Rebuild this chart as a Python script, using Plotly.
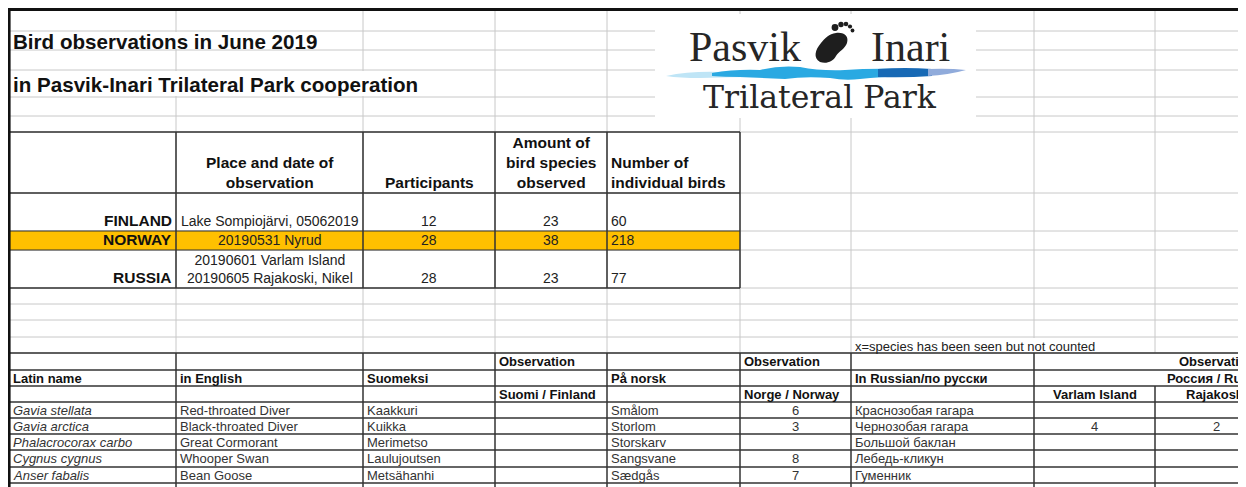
import plotly.graph_objects as go

W, H = 1246, 487
OFF = 8  # page margin of the html body; axis ranges are shifted so data units = window pixels

# sheet geometry in pixels (columns and row boundaries)
col_x = [4, 176, 363, 495, 607, 740, 851, 1034, 1155, 1277, 1400]
top_rows = [5, 31, 50, 70, 97, 116, 132]
summary_rows = [132, 193, 231, 250, 288]
spacer_rows = [288, 304, 320, 337, 353]
species_rows = [353, 370, 386, 402, 418, 434, 450, 467, 483, 499]

GRID = "#c8c8c8"
DARK = "#333333"
FONT = "Liberation Sans"
FIRST_COL_TEXT_X = 12  # left edge of text in the first column (clear of the frame)

# ---- data ----
title_lines = ["Bird observations in June 2019",
               "in Pasvik-Inari Trilateral Park cooperation"]

summary_header = ["Place and date of<br>observation", "Participants",
                  "Amount of<br>bird species<br>observed", "Number of<br>individual birds"]
countries = ["FINLAND", "NORWAY", "RUSSIA"]
places = ["Lake Sompiojärvi, 05062019", "20190531 Nyrud",
          "20190601 Varlam Island<br>20190605 Rajakoski, Nikel"]
participants = [12, 28, 28]
species_observed = [23, 38, 23]
individual_birds = [60, 218, 77]
highlight_country = "NORWAY"

note = "x=species has been seen but not counted"

latin = ["Gavia stellata", "Gavia arctica", "Phalacrocorax carbo", "Cygnus cygnus",
         "Anser fabalis", "Anas platyrhynchos"]
english = ["Red-throated Diver", "Black-throated Diver", "Great Cormorant",
           "Whooper Swan", "Bean Goose", "Mallard"]
finnish = ["Kaakkuri", "Kuikka", "Merimetso", "Laulujoutsen", "Metsähanhi", "Sinisorsa"]
obs_finland = ["", "", "", "", "", "2"]
norwegian = ["Smålom", "Storlom", "Storskarv", "Sangsvane", "Sædgås", "Stokkand"]
obs_norway = ["6", "3", "", "8", "7", "6"]
russian = ["Краснозобая гагара", "Чернозобая гагара", "Большой баклан",
           "Лебедь-кликун", "Гуменник", "Кряква"]
obs_varlam = ["", "4", "", "", "", ""]
obs_rajakoski = ["", "2", "", "", "", ""]

fig = go.Figure()
fig.add_trace(go.Scatter(x=[OFF + 10, W - 10], y=[OFF + 10, H - 10], mode="markers",
                         marker=dict(opacity=0), hoverinfo="skip", showlegend=False))


def line(x0, y0, x1, y1, color=GRID, width=1):
    fig.add_shape(type="line", x0=x0, y0=y0, x1=x1, y1=y1,
                  line=dict(color=color, width=width), layer="above")


def rect(x0, y0, x1, y1, fill):
    fig.add_shape(type="rect", x0=x0, y0=y0, x1=x1, y1=y1, fillcolor=fill,
                  line=dict(width=0), layer="above")


def label(x, y, text, xanchor, yanchor, font, align="left"):
    fig.add_annotation(x=x, y=y, xref="x", yref="y", text=text, showarrow=False,
                       xanchor=xanchor, yanchor=yanchor, align=align, borderpad=0,
                       font=font)


def cell(text, c, y, align="left", size=13, bold=False, italic=False,
         color="#333333", yanchor="middle", span=1):
    if text == "" or text is None:
        return
    t = str(text)
    if italic:
        t = "<i>" + t + "</i>"
    if bold:
        t = "<b>" + t + "</b>"
    x0, x1 = col_x[c], col_x[c + span]
    if align == "left":
        x, xa = (FIRST_COL_TEXT_X if c == 0 else x0 + 3), "left"
    elif align == "right":
        x, xa = x1 - 3, "right"
    else:
        x, xa = (x0 + x1) / 2, "center"
    label(x, y, t, xa, yanchor, dict(family=FONT, size=size, color=color), align)


# ---- light spreadsheet grid ----
for x in col_x[1:-2]:
    line(x, 5, x, spacer_rows[-1])
for y in top_rows[1:] + summary_rows[1:] + spacer_rows[1:]:
    line(4, y, W + OFF, y)

# text overflow and logo hide the grid
rect(5, top_rows[1] + 1, 322, top_rows[2] - 1, "white")
rect(5, top_rows[3] + 1, 428, top_rows[4] - 1, "white")
rect(852, spacer_rows[3] + 1, 1104, spacer_rows[4] - 1, "white")
rect(655, 14, 976, 118, "white")

# highlighted row
i_hl = countries.index(highlight_country)
rect(col_x[0], summary_rows[i_hl + 1], col_x[5], summary_rows[i_hl + 2], "#ffc000")

# ---- summary table borders ----
for y in summary_rows:
    w = 1.5 if y in (summary_rows[0], summary_rows[1], summary_rows[-1]) else 1.1
    line(col_x[0], y, col_x[5], y, DARK, w)
for x in col_x[1:6]:
    line(x, summary_rows[0], x, summary_rows[-1], DARK, 1.5)

# ---- species table borders ----
for y in species_rows[:-1]:
    line(col_x[0], y, W + OFF, y, DARK, 1.5)
for x in col_x[1:8]:
    line(x, species_rows[0], x, H + OFF, DARK, 1.5)
line(col_x[8], species_rows[2], col_x[8], H + OFF, DARK, 1.5)

# sheet frame (drawn at the page's first visible pixels)
line(OFF, OFF + 1.5, W + OFF, OFF + 1.5, "#111111", 3)
line(OFF + 1.3, OFF, OFF + 1.3, H + OFF, "#111111", 2.6)

# ---- titles ----
for k, t in enumerate(title_lines):
    label(FIRST_COL_TEXT_X, [41, 84][k], "<b>" + t + "</b>", "left", "middle",
          dict(family=FONT, size=20.6, color="#111111"))

# ---- summary table ----
hdr_bottom = summary_rows[1] - 1
for j, h in enumerate(summary_header):
    cell(h, j + 1, hdr_bottom, "left" if j == 3 else "center", 15.5, bold=True,
         color="#111111", yanchor="bottom")
for i, ctry in enumerate(countries):
    yb = summary_rows[i + 2] - 1
    cell(ctry, 0, yb, "right", 15.5, bold=True, color="#111111", yanchor="bottom")
    cell(places[i], 1, yb, "center", 14, color="#222222", yanchor="bottom")
    cell(participants[i], 2, yb, "center", 14, color="#222222", yanchor="bottom")
    cell(species_observed[i], 3, yb, "center", 14, color="#222222", yanchor="bottom")
    cell(individual_birds[i], 4, yb, "left", 14, color="#222222", yanchor="bottom")

cell(note, 6, (spacer_rows[3] + spacer_rows[4]) / 2 + 1, "left", 13, color="#222222")

# ---- species table header ----
mid = [(species_rows[k] + species_rows[k + 1]) / 2 for k in range(len(species_rows) - 1)]
r0, r1, r2 = mid[0], mid[1], mid[2]
cell("Observation", 3, r0, bold=True, color="#111111")
cell("Observation", 5, r0, bold=True, color="#111111")
cell("Observation", 7, r0, "center", bold=True, color="#111111", span=3)
cell("Latin name", 0, r1, bold=True, color="#111111")
cell("in English", 1, r1, bold=True, color="#111111")
cell("Suomeksi", 2, r1, bold=True, color="#111111")
cell("På norsk", 4, r1, bold=True, color="#111111")
cell("In Russian/по русски", 6, r1, bold=True, color="#111111")
cell("Россия / Russia", 7, r1, "center", bold=True, color="#111111", span=3)
cell("Suomi / Finland", 3, r2, bold=True, color="#111111")
cell("Norge / Norway", 5, r2, bold=True, color="#111111")
cell("Varlam Island", 7, r2, "center", bold=True, color="#111111")
cell("Rajakoski", 8, r2, "center", bold=True, color="#111111")

# ---- species rows ----
for i in range(len(latin)):
    yc = mid[i + 3]
    cell(latin[i], 0, yc, italic=True)
    cell(english[i], 1, yc)
    cell(finnish[i], 2, yc)
    cell(obs_finland[i], 3, yc, "center")
    cell(norwegian[i], 4, yc)
    cell(obs_norway[i], 5, yc, "center")
    cell(russian[i], 6, yc)
    cell(obs_varlam[i], 7, yc, "center")
    cell(obs_rajakoski[i], 8, yc, "center")

# ---- logo ----
fig.add_annotation(x=745, y=47, xref="x", yref="y", text="Pasvik", showarrow=False,
                   xanchor="center", yanchor="middle",
                   font=dict(family="Liberation Serif", size=42, color="#262626"))
fig.add_annotation(x=910, y=47, xref="x", yref="y", text="Inari", showarrow=False,
                   xanchor="center", yanchor="middle",
                   font=dict(family="Liberation Serif", size=42, color="#262626"))
fig.add_annotation(x=820, y=97, xref="x", yref="y", text="Trilateral Park", showarrow=False,
                   xanchor="center", yanchor="middle",
                   font=dict(family="DejaVu Serif", size=31.5, color="#262626"))
# footprint
fig.add_shape(type="path", layer="above", fillcolor="#1e1e1e", line=dict(width=0),
              path="M 820 62 C 813 58, 815 50, 821 43 C 825 38, 829 34, 836 33 "
                   "C 845 32, 849 37, 847 43 C 845 49, 839 51, 836 56 C 833 62, 826 64, 820 62 Z")
for cx, cy, r in [(835, 27.5, 3.4), (841, 24.5, 2.7), (846, 24, 2.3), (850, 26.5, 2.1), (852.5, 30.5, 1.9)]:
    fig.add_shape(type="circle", layer="above", x0=cx - r, x1=cx + r, y0=cy - r, y1=cy + r,
                  fillcolor="#1e1e1e", line=dict(width=0))
# river stripe
fig.add_shape(type="path", layer="above", fillcolor="#bfe5f6", line=dict(width=0),
              path="M 666 76 Q 690 71 720 72 Q 745 70 760 72 L 760 77 Q 730 77 700 78 Q 680 78 666 76 Z")
fig.add_shape(type="path", layer="above", fillcolor="#2aa9e2", line=dict(width=0),
              path="M 712 73 Q 735 69 760 70 Q 780 65 800 67 Q 820 71 845 70 Q 870 68 905 69 "
                   "L 905 76 Q 880 77 860 79 Q 845 81 830 78 Q 805 76 785 79 Q 760 78 740 77 Q 725 77 712 76 Z")
fig.add_shape(type="path", layer="above", fillcolor="#1769b5", line=dict(width=0),
              path="M 878 69 Q 905 67 932 69 L 932 76 Q 905 78 878 77 Z")
fig.add_shape(type="path", layer="above", fillcolor="#90abdb", line=dict(width=0),
              path="M 928 69 Q 948 68 966 70 Q 948 75 928 76 Z")

fig.update_xaxes(range=[OFF, W + OFF], visible=False, fixedrange=True)
fig.update_yaxes(range=[H + OFF, OFF], visible=False, fixedrange=True)
fig.update_layout(width=W, height=H, margin=dict(l=0, r=0, t=0, b=0),
                  plot_bgcolor="white", paper_bgcolor="white", showlegend=False)

fig.write_html("out.html")
